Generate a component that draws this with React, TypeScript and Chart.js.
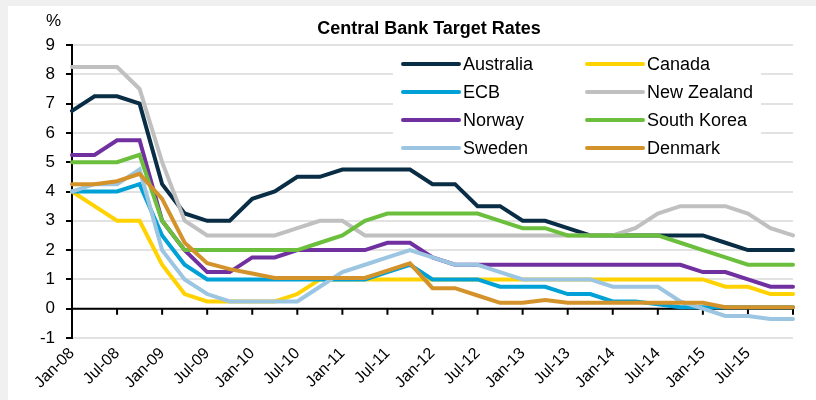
import React, { useEffect, useRef } from 'react';
import { Chart, registerables } from 'chart.js';

Chart.register(...registerables);

const quarters = [
  'Jan-08', 'Apr-08', 'Jul-08', 'Oct-08',
  'Jan-09', 'Apr-09', 'Jul-09', 'Oct-09',
  'Jan-10', 'Apr-10', 'Jul-10', 'Oct-10',
  'Jan-11', 'Apr-11', 'Jul-11', 'Oct-11',
  'Jan-12', 'Apr-12', 'Jul-12', 'Oct-12',
  'Jan-13', 'Apr-13', 'Jul-13', 'Oct-13',
  'Jan-14', 'Apr-14', 'Jul-14', 'Oct-14',
  'Jan-15', 'Apr-15', 'Jul-15', 'Oct-15',
  'Jan-16',
];

const australia = [6.75, 7.25, 7.25, 7.0, 4.25, 3.25, 3.0, 3.0, 3.75, 4.0, 4.5, 4.5, 4.75, 4.75, 4.75, 4.75, 4.25, 4.25, 3.5, 3.5, 3.0, 3.0, 2.75, 2.5, 2.5, 2.5, 2.5, 2.5, 2.5, 2.25, 2.0, 2.0, 2.0];
const canada = [4.0, 3.5, 3.0, 3.0, 1.5, 0.5, 0.25, 0.25, 0.25, 0.25, 0.5, 1.0, 1.0, 1.0, 1.0, 1.0, 1.0, 1.0, 1.0, 1.0, 1.0, 1.0, 1.0, 1.0, 1.0, 1.0, 1.0, 1.0, 1.0, 0.75, 0.75, 0.5, 0.5];
const ecb = [4.0, 4.0, 4.0, 4.25, 2.5, 1.5, 1.0, 1.0, 1.0, 1.0, 1.0, 1.0, 1.0, 1.0, 1.25, 1.5, 1.0, 1.0, 1.0, 0.75, 0.75, 0.75, 0.5, 0.5, 0.25, 0.25, 0.15, 0.05, 0.05, 0.05, 0.05, 0.05, 0.05];
const newZealand = [8.25, 8.25, 8.25, 7.5, 5.0, 3.0, 2.5, 2.5, 2.5, 2.5, 2.75, 3.0, 3.0, 2.5, 2.5, 2.5, 2.5, 2.5, 2.5, 2.5, 2.5, 2.5, 2.5, 2.5, 2.5, 2.75, 3.25, 3.5, 3.5, 3.5, 3.25, 2.75, 2.5];
const norway = [5.25, 5.25, 5.75, 5.75, 3.0, 2.0, 1.25, 1.25, 1.75, 1.75, 2.0, 2.0, 2.0, 2.0, 2.25, 2.25, 1.75, 1.5, 1.5, 1.5, 1.5, 1.5, 1.5, 1.5, 1.5, 1.5, 1.5, 1.5, 1.25, 1.25, 1.0, 0.75, 0.75];
const southKorea = [5.0, 5.0, 5.0, 5.25, 3.0, 2.0, 2.0, 2.0, 2.0, 2.0, 2.0, 2.25, 2.5, 3.0, 3.25, 3.25, 3.25, 3.25, 3.25, 3.0, 2.75, 2.75, 2.5, 2.5, 2.5, 2.5, 2.5, 2.25, 2.0, 1.75, 1.5, 1.5, 1.5];
const sweden = [4.0, 4.25, 4.25, 4.75, 2.0, 1.0, 0.5, 0.25, 0.25, 0.25, 0.25, 0.75, 1.25, 1.5, 1.75, 2.0, 1.75, 1.5, 1.5, 1.25, 1.0, 1.0, 1.0, 1.0, 0.75, 0.75, 0.75, 0.25, 0.0, -0.25, -0.25, -0.35, -0.35];
const denmark = [4.25, 4.25, 4.35, 4.6, 3.75, 2.25, 1.55, 1.35, 1.2, 1.05, 1.05, 1.05, 1.05, 1.05, 1.3, 1.55, 0.7, 0.7, 0.45, 0.2, 0.2, 0.3, 0.2, 0.2, 0.2, 0.2, 0.2, 0.2, 0.2, 0.05, 0.05, 0.05, 0.05];

const seriesNames = ['Australia', 'Canada', 'ECB', 'New Zealand', 'Norway', 'South Korea', 'Sweden', 'Denmark'];
const seriesValues = [australia, canada, ecb, newZealand, norway, southKorea, sweden, denmark];
const seriesColors = ['#0a2d46', '#ffd200', '#00a1d6', '#c0c0c0', '#7030a0', '#6cbf3c', '#9cc5e2', '#d4922a'];

const chartTitle = 'Central Bank Target Rates';
const unitLabel = '%';
const yMin = -1;
const yMax = 9;

const FONT = '"Liberation Sans", Arial, Helvetica, sans-serif';

const decorPlugin = {
  id: 'decor',
  beforeDatasetsDraw(chart: any) {
    const { ctx, chartArea, scales } = chart;
    const x = scales.x;
    const y = scales.y;
    ctx.save();
    // zero axis line with downward tick marks
    const y0 = y.getPixelForValue(0);
    ctx.strokeStyle = '#000';
    ctx.lineWidth = 2;
    ctx.beginPath();
    ctx.moveTo(chartArea.left, y0);
    ctx.lineTo(chartArea.right, y0);
    for (let i = 0; i < quarters.length; i += 2) {
      const px = x.getPixelForValue(i);
      ctx.moveTo(px, y0);
      ctx.lineTo(px, y0 + 6);
    }
    ctx.stroke();

    // legend box
    const boxL = 385, boxT = 41, boxW = 368, boxH = 114;
    ctx.fillStyle = '#fff';
    ctx.fillRect(boxL, boxT, boxW, boxH);
    const colLine = [395, 579];
    const lineLen = 56;
    const rowY0 = 58, rowStep = 28;
    ctx.font = `18px ${FONT}`;
    ctx.textBaseline = 'middle';
    ctx.textAlign = 'left';
    chart.data.datasets.forEach((ds: any, i: number) => {
      const col = i % 2;
      const row = Math.floor(i / 2);
      const cy = rowY0 + row * rowStep;
      const lx = colLine[col];
      ctx.strokeStyle = ds.borderColor;
      ctx.lineWidth = 4;
      ctx.lineCap = 'round';
      ctx.beginPath();
      ctx.moveTo(lx, cy);
      ctx.lineTo(lx + lineLen, cy);
      ctx.stroke();
      ctx.fillStyle = '#000';
      ctx.fillText(ds.label, lx + lineLen + 4, cy + 1);
    });
    ctx.restore();
  },
  afterDraw(chart: any) {
    const { ctx } = chart;
    ctx.save();
    ctx.fillStyle = '#000';
    ctx.textBaseline = 'alphabetic';
    ctx.textAlign = 'center';
    ctx.font = `bold 18px ${FONT}`;
    ctx.fillText(chartTitle, 421, 27.5);
    ctx.textAlign = 'left';
    ctx.font = `17px ${FONT}`;
    ctx.fillText(unitLabel, 38, 20);
    ctx.restore();
  },
};

export default function App() {
  const canvasRef = useRef<HTMLCanvasElement | null>(null);

  useEffect(() => {
    const canvas = canvasRef.current;
    if (!canvas) return;
    const n = seriesNames.length;
    const chart = new Chart(canvas, {
      type: 'line',
      data: {
        labels: quarters,
        datasets: seriesNames.map((name, i) => ({
          label: name,
          data: seriesValues[i],
          borderColor: seriesColors[i],
          backgroundColor: seriesColors[i],
          borderWidth: 4,
          pointRadius: 0,
          pointHoverRadius: 0,
          tension: 0,
          fill: false,
          borderCapStyle: 'round',
          order: n - 1 - i,
        })),
      },
      options: {
        responsive: false,
        animation: false,
        events: [],
        layout: { padding: { left: 0, right: 23, top: 39, bottom: 0 } },
        plugins: {
          legend: { display: false },
          title: { display: false },
          tooltip: { enabled: false },
        },
        scales: {
          x: {
            type: 'category',
            offset: false,
            grid: { display: false, drawTicks: false },
            border: { display: false },
            ticks: {
              autoSkip: false,
              maxRotation: 45,
              minRotation: 45,
              padding: 6,
              color: '#000',
              font: { family: FONT, size: 16 },
              callback: (_v: any, idx: number) =>
                idx % 2 === 0 && idx < quarters.length - 1 ? quarters[idx] : '',
            },
            afterFit: (scale: any) => {
              scale.height = 62;
            },
          },
          y: {
            min: yMin,
            max: yMax,
            grid: {
              color: '#e2e2e2',
              lineWidth: 2,
              drawTicks: true,
              tickLength: 6,
              tickColor: '#000',
              tickWidth: 2,
            },
            border: { display: true, color: '#000', width: 2 },
            ticks: {
              stepSize: 1,
              padding: 11,
              color: '#000',
              font: { family: FONT, size: 17 },
            },
            afterFit: (scale: any) => {
              scale.width = 64;
            },
          },
        },
      },
      plugins: [decorPlugin],
    } as any);
    return () => chart.destroy();
  }, []);

  return (
    <div
      style={{
        position: 'absolute',
        left: 0,
        top: 0,
        width: 816,
        height: 400,
        background: '#f0f0f0',
        overflow: 'hidden',
      }}
    >
      <div
        style={{
          position: 'absolute',
          left: 8,
          top: 6,
          width: 808,
          height: 394,
          background: '#fff',
        }}
      >
        <canvas ref={canvasRef} width={808} height={394} style={{ display: 'block' }} />
      </div>
    </div>
  );
}
